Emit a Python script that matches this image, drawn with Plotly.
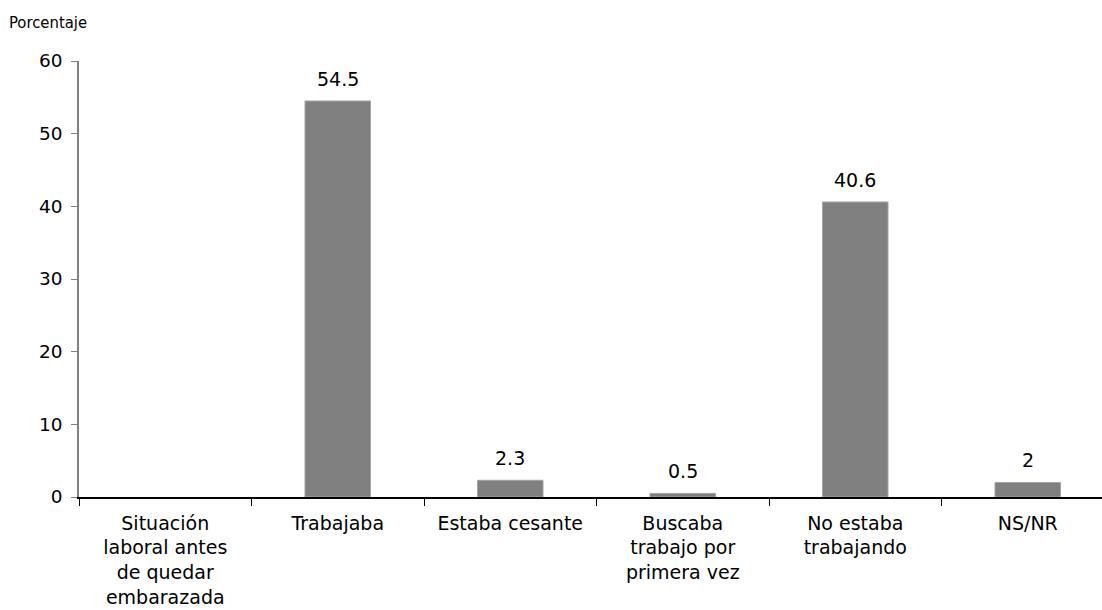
import plotly.graph_objects as go

categories = [
    "Situación<br>laboral antes<br>de quedar<br>embarazada",
    "Trabajaba",
    "Estaba cesante",
    "Buscaba<br>trabajo por<br>primera vez",
    "No estaba<br>trabajando",
    "NS/NR",
]
values = [None, 54.5, 2.3, 0.5, 40.6, 2]
labels = ["", "54.5", "2.3", "0.5", "40.6", "2"]
y_ticks = [0, 10, 20, 30, 40, 50, 60]

FONT = "DejaVu Sans"
FS = 19

fig = go.Figure()
fig.add_trace(go.Bar(
    x=categories,
    y=values,
    marker=dict(color="#808080", line=dict(color="#a6a6a6", width=1)),
    width=0.38,
    showlegend=False,
))

annotations = [dict(
    text="Porcentaje", xref="paper", yref="paper", x=-72 / 1023, y=1,
    xanchor="left", yanchor="middle", yshift=39, showarrow=False,
    font=dict(family="DejaVu Sans Condensed, DejaVu Sans", size=16.5, color="#000000"),
)]
for c, v, t in zip(categories, values, labels):
    if v is None:
        continue
    annotations.append(dict(
        x=c, y=v, xref="x", yref="y", text=t, showarrow=False,
        yanchor="bottom", yshift=9,
        font=dict(family=FONT, size=FS, color="#000000"),
    ))

fig.update_layout(
    width=1102,
    height=610,
    margin=dict(l=79, r=0, t=61, b=113),
    paper_bgcolor="white",
    plot_bgcolor="white",
    font=dict(family=FONT, size=FS, color="#000000"),
    annotations=annotations,
)
fig.update_xaxes(
    type="category",
    range=[-0.5, -0.5 + 1023 / 172.5],
    showline=True, linecolor="#000000", linewidth=1.5,
    ticks="outside", tickson="boundaries", ticklen=7, tickcolor="#000000",
    showgrid=False, zeroline=False,
    tickangle=0,
    ticklabelstandoff=8,
    tickfont=dict(family=FONT, size=FS, color="#000000"),
)
fig.update_yaxes(
    range=[0, 60],
    tickvals=y_ticks,
    showline=True, linecolor="#808080", linewidth=1.5,
    ticks="outside", ticklen=6, tickcolor="#808080",
    showgrid=False, zeroline=False,
    ticklabelstandoff=5,
    tickfont=dict(family=FONT, size=18.5, color="#000000"),
)

fig.write_html("out.html")
